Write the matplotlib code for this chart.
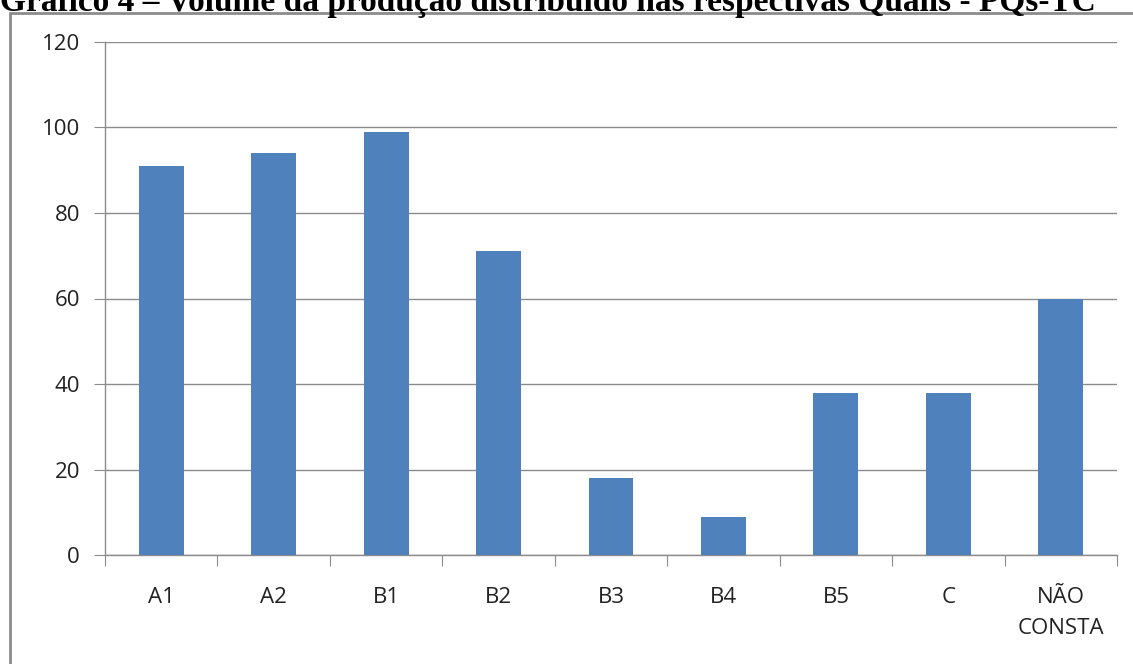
import matplotlib.pyplot as plt
from matplotlib.patches import Rectangle

categories = ["A1", "A2", "B1", "B2", "B3", "B4", "B5", "C", "NÃO\nCONSTA"]
values = [91, 94, 99, 71, 18, 9, 38, 38, 60]
yticks = [0, 20, 40, 60, 80, 100, 120]
title = "Gráfico 4 – Volume da produção distribuído nas respectivas Qualis - PQs-TC"

W, H = 1133, 664
fig = plt.figure(figsize=(W / 100, H / 100), dpi=100)

# outer chart frame (extends past the bottom/right of the crop)
fig.patches.append(Rectangle((10 / W, -0.1), 1.2, (H - 12.5) / H + 0.1,
                             transform=fig.transFigure, fill=False,
                             edgecolor="#8c8c8c", linewidth=2))

# title, cut off at the top like the source
fig.text(0, 1 - 11 / H, title, fontsize=24, fontweight="bold",
         family="Liberation Serif", ha="left", va="baseline")

ax = fig.add_axes([105 / W, 1 - 555 / H, (1117 - 105) / W, (555 - 42) / H])
x = list(range(len(categories)))
ax.bar(x, values, width=0.4, color="#4F81BD", zorder=3)

ax.set_xlim(-0.5, len(categories) - 0.5)
ax.set_ylim(0, 120)
ax.set_yticks(yticks)
ax.grid(axis="y", color="#8c8c8c", linewidth=1, zorder=0)
ax.tick_params(axis="y", length=8, color="#8c8c8c", pad=10, labelsize=16)

ax.set_xticks([i - 0.5 for i in range(len(categories) + 1)])
ax.set_xticklabels([])
ax.set_xticks(x, minor=True)
ax.set_xticklabels(categories, minor=True, fontsize=16, linespacing=1.65)
ax.tick_params(axis="x", which="major", length=8, color="#8c8c8c")
ax.tick_params(axis="x", which="minor", length=0, pad=23)

for s in ["top", "right"]:
    ax.spines[s].set_visible(False)
for s in ["left", "bottom"]:
    ax.spines[s].set_color("#8c8c8c")
    ax.spines[s].set_linewidth(1)

for lab in ax.get_xticklabels(minor=True) + ax.get_yticklabels():
    lab.set_family("Open Sans")
    lab.set_color("#222222")

fig.savefig("out.png", dpi=100)
